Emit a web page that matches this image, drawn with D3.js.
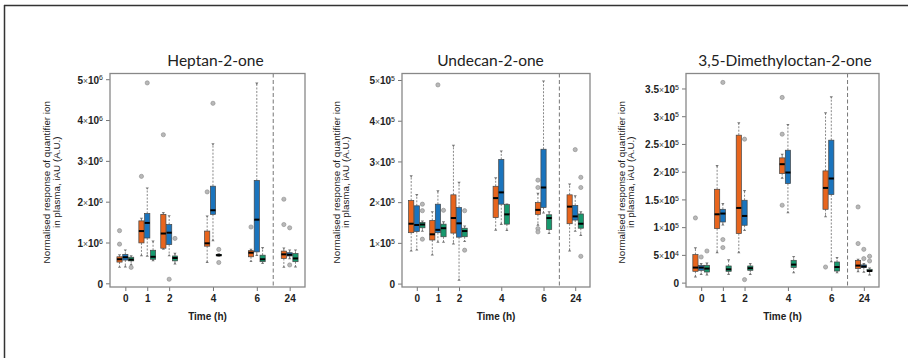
<!DOCTYPE html>
<html>
<head>
<meta charset="utf-8">
<script src="https://cdn.jsdelivr.net/npm/d3@7"></script>
<style>
  body { margin: 0; background: #fff; }
  svg { display: block; font-family: "Liberation Sans", Arial, sans-serif; }
</style>
</head>
<body>
<svg id="chart" width="908" height="358"></svg>
<script>
const times = ['0', '1', '2', '4', '6', '24'];
const timePos = [0, 1, 2, 4, 6, 7.5];
const groups = ['orange', 'blue', 'green'];
const titles = ['Heptan-2-one', 'Undecan-2-one', '3,5-Dimethyloctan-2-one'];

// [whisker low, q1, median, q3, whisker high] per time point
// Heptan-2-one, units of 1e6
const heptanOrange = [[0.41,0.52,0.59,0.65,0.68],[0.69,0.99,1.28,1.53,1.58],[0.85,0.86,1.22,1.69,1.72],[0.53,0.91,0.98,1.28,1.63],[0.55,0.65,0.75,0.80,0.82],[0.41,0.61,0.71,0.79,0.85]];
const heptanBlue   = [[0.42,0.57,0.64,0.71,0.80],[0.68,1.11,1.48,1.71,2.32],[0.69,0.95,1.24,1.44,1.64],[1.06,1.69,1.79,2.38,3.40],[0.70,0.77,1.56,2.52,4.89],[0.62,0.67,0.70,0.75,0.80]];
const heptanGreen  = [[0.47,0.55,0.58,0.64,0.66],[0.57,0.59,0.65,0.81,1.02],[0.49,0.55,0.62,0.67,0.72],[0.68,0.68,0.69,0.71,0.71],[0.50,0.53,0.59,0.69,0.86],[0.42,0.53,0.61,0.73,0.80]];
// outliers: [time index, value]
const heptanOrangeOut = [[0,1.29],[0,0.96],[1,2.62],[2,3.64],[3,2.24],[4,1.38],[5,2.06],[5,1.44]];
const heptanBlueOut   = [[1,4.91],[2,0.10],[3,4.41],[5,1.36],[5,0.45]];
const heptanGreenOut  = [[0,0.39],[2,1.10],[3,0.83],[3,0.51]];

// Undecan-2-one, units of 1e5
const undecanOrange = [[0.82,1.25,1.47,2.04,2.63],[0.72,1.07,1.21,1.55,1.75],[0.99,1.24,1.61,2.18,3.38],[1.33,1.62,2.10,2.39,2.58],[1.45,1.70,1.81,1.99,2.20],[0.82,1.47,1.89,2.18,2.43]];
const undecanBlue   = [[0.84,1.28,1.44,1.91,2.17],[1.03,1.25,1.32,1.95,2.26],[0.10,1.14,1.48,1.87,2.47],[1.47,1.95,2.24,3.05,3.24],[1.75,1.87,2.36,3.30,4.96],[1.30,1.56,1.65,1.92,2.14]];
const undecanGreen  = [[1.30,1.37,1.45,1.50,1.52],[1.03,1.15,1.36,1.46,1.50],[1.05,1.15,1.29,1.36,1.40],[1.32,1.46,1.70,1.94,1.94],[1.25,1.33,1.61,1.69,1.75],[1.20,1.36,1.47,1.71,1.75]];
const undecanOrangeOut = [[4,2.54],[4,2.36],[4,1.35],[4,1.27]];
const undecanBlueOut   = [[1,4.88],[5,3.29]];
const undecanGreenOut  = [[0,1.95],[0,1.79],[0,1.09],[1,1.80],[2,1.79],[2,0.82],[5,2.61],[5,2.36],[5,0.67]];

// 3,5-Dimethyloctan-2-one, units of 1e4
const dimethOrange = [[1.14,2.04,2.71,5.05,6.14],[5.52,9.74,12.32,16.83,20.98],[5.52,8.84,13.46,26.58,28.69],[18.95,19.67,21.35,22.49,23.0],[12.02,13.22,17.07,20.14,30.49],[2.1,2.53,3.07,4.02,4.1]];
const dimethBlue   = [[1.6,2.22,2.71,3.12,3.3],[10.52,10.93,12.45,13.22,14.13],[9.5,10.34,12.02,14.85,16.47],[12.74,17.86,19.85,23.87,28.38],[3.90,15.88,18.77,25.68,33.38],[2.0,2.7,2.9,3.2,3.3]];
const dimethGreen  = [[1.5,1.91,2.53,3.12,3.4],[1.6,2.04,2.4,3.0,4.0],[1.6,2.22,2.6,3.0,3.3],[1.9,2.71,3.25,4.02,4.6],[1.9,2.09,2.81,3.72,4.4],[1.5,2.04,2.1,2.4,2.5]];
const dimethOrangeOut = [[0,11.66],[3,33.38],[3,26.76],[3,13.95],[4,2.81],[5,13.64],[5,7.04]];
const dimethBlueOut   = [[0,4.62],[1,7.76],[1,6.32],[1,36.09],[2,25.86],[2,0.54],[5,6.0],[5,4.33]];
const dimethGreenOut  = [[0,5.70],[5,4.75],[5,3.9]];

// y ticks: [value in panel units, mantissa, exponent]
const heptanTicks  = [[0,'0',''],[1,'1','6'],[2,'2','6'],[3,'3','6'],[4,'4','6'],[5,'5','6']];
const undecanTicks = [[0,'0',''],[1,'1','5'],[2,'2','5'],[3,'3','5'],[4,'4','5'],[5,'5','5']];
const dimethTicks  = [[0,'0',''],[5,'5','4'],[10,'1','5'],[15,'1.5','5'],[20,'2','5'],[25,'2.5','5'],[30,'3','5'],[35,'3.5','5']];

const panels = [
  { stats: [heptanOrange, heptanBlue, heptanGreen], outs: [heptanOrangeOut, heptanBlueOut, heptanGreenOut], ticks: heptanTicks, yDomain: [-0.09, 5.14] },
  { stats: [undecanOrange, undecanBlue, undecanGreen], outs: [undecanOrangeOut, undecanBlueOut, undecanGreenOut], ticks: undecanTicks, yDomain: [-0.084, 5.16] },
  { stats: [dimethOrange, dimethBlue, dimethGreen], outs: [dimethOrangeOut, dimethBlueOut, dimethGreenOut], ticks: dimethTicks, yDomain: [-0.79, 37.7] }
];

// layout
const layout = [
  { left: 110, right: 305, titleX: 215.5, lab: [47, 56.5] },
  { left: 402, right: 590, titleX: 490.5, lab: [337, 346] },
  { left: 686, right: 879, titleX: 785, lab: [622, 631] }
];
const plotTop = 73.5, plotBottom = 287;
const colors = { orange: '#E8651D', blue: '#1A74BD', green: '#17996E' };

const svg = d3.select('#chart');

// outer frame lines
svg.append('line').attr('x1', 4).attr('x2', 908).attr('y1', 5.5).attr('y2', 5.5)
  .attr('stroke', '#333').attr('stroke-width', 1.5);
svg.append('line').attr('x1', 4.5).attr('x2', 4.5).attr('y1', 5).attr('y2', 358)
  .attr('stroke', '#333').attr('stroke-width', 1.5);

panels.forEach((p, i) => {
  const L = layout[i];
  const x = d3.scaleLinear().domain([-0.7, 8.2]).range([L.left, L.right]);
  const y = d3.scaleLinear().domain(p.yDomain).range([plotBottom, plotTop]);
  const g = svg.append('g');

  // title
  g.append('text').attr('x', L.titleX).attr('y', 66).attr('text-anchor', 'middle')
    .style('font-family', 'Lato, "Open Sans", sans-serif').style('font-size', '15.5px')
    .style('fill', '#222').text(titles[i]);

  // y axis
  const yAxis = g.append('g').attr('transform', `translate(${L.left},0)`)
    .call(d3.axisLeft(y).tickValues(p.ticks.map(t => t[0])).tickSize(4).tickFormat(''));
  yAxis.select('.domain').remove();
  yAxis.selectAll('.tick line').attr('stroke', '#777');
  yAxis.selectAll('.tick').each(function(d, k) {
    const t = p.ticks[k];
    const txt = d3.select(this).append('text').attr('x', -7).attr('dy', '0.38em')
      .attr('text-anchor', 'end').style('font-size', '10px').style('font-weight', 'bold')
      .style('fill', '#222');
    txt.append('tspan').text(t[1]);
    if (t[2]) {
      txt.append('tspan').text('\u00d7').style('font-weight', 'normal').style('font-size', '8.5px').style('fill', '#555');
      txt.append('tspan').text('10');
      txt.append('tspan').text(t[2]).attr('dy', '-0.45em').style('font-size', '7px').style('font-weight', 'normal');
    }
  });

  // x axis
  const xAxis = g.append('g').attr('transform', `translate(0,${plotBottom})`)
    .call(d3.axisBottom(x).tickValues(timePos).tickSize(4).tickFormat((d, k) => times[k]));
  xAxis.select('.domain').remove();
  xAxis.selectAll('.tick line').attr('stroke', '#777');
  xAxis.selectAll('.tick text').attr('y', 8).style('font-size', '10px')
    .style('font-weight', 'bold').style('fill', '#222').style('font-family', '"Liberation Sans", Arial, sans-serif');

  g.append('text').attr('x', (L.left + L.right) / 2).attr('y', 319.5).attr('text-anchor', 'middle')
    .style('font-size', '10px').style('font-weight', 'bold').style('fill', '#222').text('Time (h)');

  // y label, two lines
  const cy = (plotTop + plotBottom) / 2 + 2;
  ['Normalised response of quantifier ion', 'in plasma, iAU (A.U.)'].forEach((s, k) => {
    g.append('text').attr('transform', `translate(${L.lab[k]},${cy}) rotate(-90)`)
      .attr('text-anchor', 'middle').attr('dy', '0.35em')
      .style('font-size', '9.8px').style('fill', '#222').text(s);
  });

  // dashed separator before 24 h
  g.append('line').attr('x1', x(6.75)).attr('x2', x(6.75)).attr('y1', plotTop).attr('y2', plotBottom)
    .attr('stroke', '#777').attr('stroke-width', 1).attr('stroke-dasharray', '4,2.5');

  // boxes
  const bw = 5.2;
  groups.forEach((grp, gi) => {
    const off = (gi - 1) * 0.265;
    p.stats[gi].forEach((s, ti) => {
      const xc = x(timePos[ti] + off);
      const [lo, q1, med, q3, hi] = s;
      // whiskers
      g.append('line').attr('x1', xc).attr('x2', xc).attr('y1', y(q3)).attr('y2', y(hi))
        .attr('stroke', '#888').attr('stroke-dasharray', '2,1.5');
      g.append('line').attr('x1', xc).attr('x2', xc).attr('y1', y(q1)).attr('y2', y(lo))
        .attr('stroke', '#888').attr('stroke-dasharray', '2,1.5');
      // whisker caps as small triangles
      g.append('path').attr('d', `M${xc - 1.6},${y(hi) - 1.2}L${xc + 1.6},${y(hi) - 1.2}L${xc},${y(hi) + 1.2}Z`).attr('fill', '#777');
      g.append('path').attr('d', `M${xc - 1.6},${y(lo) + 1.2}L${xc + 1.6},${y(lo) + 1.2}L${xc},${y(lo) - 1.2}Z`).attr('fill', '#777');
      g.append('rect').attr('x', xc - bw / 2).attr('width', bw)
        .attr('y', y(q3)).attr('height', Math.max(y(q1) - y(q3), 1.5))
        .attr('fill', colors[grp]).attr('stroke', '#444').attr('stroke-width', 0.7);
      g.append('line').attr('x1', xc - bw / 2).attr('x2', xc + bw / 2).attr('y1', y(med)).attr('y2', y(med))
        .attr('stroke', '#000').attr('stroke-width', 2);
    });
    g.selectAll(null).data(p.outs[gi]).enter().append('circle')
      .attr('cx', d => x(timePos[d[0]] + off)).attr('cy', d => y(d[1])).attr('r', 2.1)
      .attr('fill', '#b8b8b8').attr('stroke', '#8a8a8a').attr('stroke-width', 0.6);
  });

  // plot frame
  g.append('rect').attr('x', L.left).attr('y', plotTop).attr('width', L.right - L.left).attr('height', plotBottom - plotTop)
    .attr('fill', 'none').attr('stroke', '#888').attr('stroke-width', 1.3);
});
</script>
</body>
</html>
